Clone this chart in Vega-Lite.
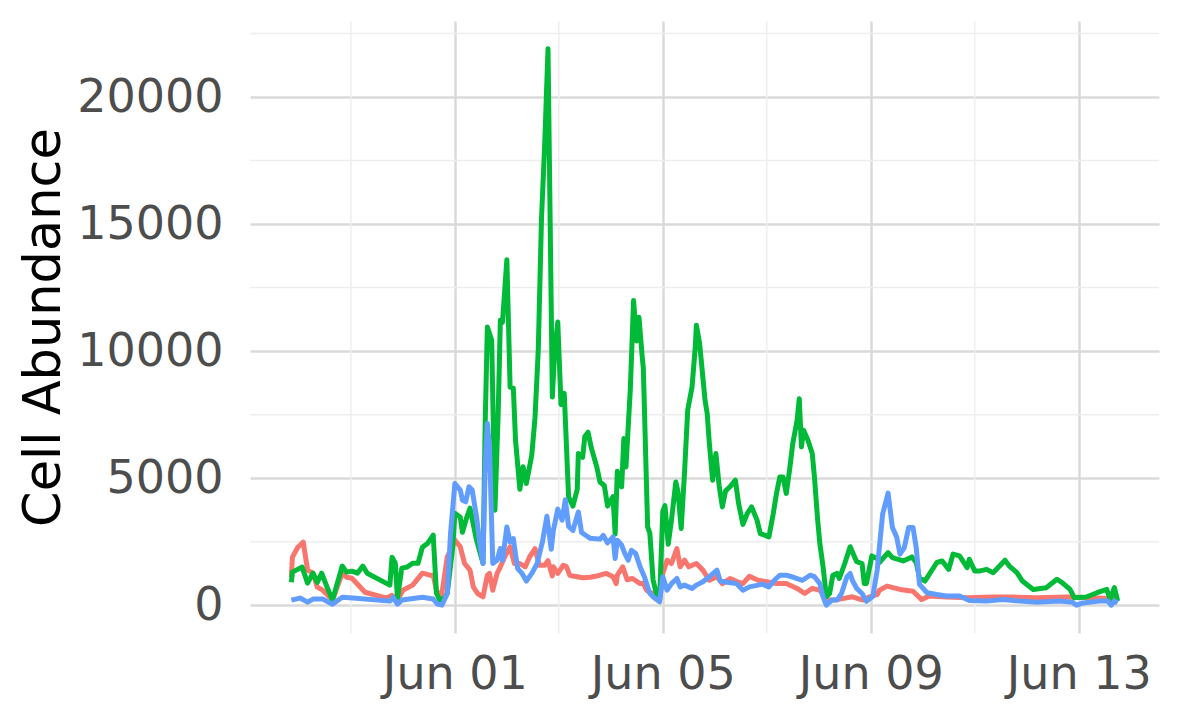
{
"$schema":"https://vega.github.io/schema/vega-lite/v6.json",
"width":909,"height":612,
"autosize":{"type":"none"},
"padding":{"left":250,"top":21,"right":41,"bottom":87},
"background":"white",
"config":{"view":{"stroke":null},"font":"DejaVu Sans"},
"resolve":{"scale":{"x":"shared","y":"shared"},"axis":{"x":"independent","y":"independent"}},
"layer":[
{"data":{"values":[{"d":"2023-05-30T00:00"},{"d":"2023-06-03T00:00"},{"d":"2023-06-07T00:00"},{"d":"2023-06-11T00:00"}]},
 "mark":{"type":"rule","color":"#EEEEEE","strokeWidth":1.5},
 "encoding":{"x":{"field":"d","type":"temporal","scale":{"domain":[{"year":2023,"month":5,"date":28,"hours":1,"minutes":25},{"year":2023,"month":6,"date":14,"hours":13,"minutes":5}],"nice":false},"axis":null}}},
{"data":{"values":[{"m":2500},{"m":7500},{"m":12500},{"m":17500},{"m":22500}]},
 "mark":{"type":"rule","color":"#EEEEEE","strokeWidth":1.5},
 "encoding":{"y":{"field":"m","type":"quantitative","scale":{"domain":[-1095,22995],"nice":false,"zero":false},"axis":null}}},
{"data":{"values":[
{"t":"2023-05-28T20:30","s":"A","v":1100},{"t":"2023-05-28T21:00","s":"A","v":1890},{"t":"2023-05-28T23:30","s":"A","v":2280},{"t":"2023-05-29T02:00","s":"A","v":2480},{"t":"2023-05-29T04:00","s":"A","v":1380},{"t":"2023-05-29T06:30","s":"A","v":1260},{"t":"2023-05-29T08:30","s":"A","v":710},{"t":"2023-05-29T11:00","s":"A","v":590},{"t":"2023-05-29T15:30","s":"A","v":200},{"t":"2023-05-29T20:00","s":"A","v":1260},{"t":"2023-05-29T22:00","s":"A","v":1100},{"t":"2023-05-30T00:30","s":"A","v":1060},{"t":"2023-05-30T06:30","s":"A","v":510},{"t":"2023-05-30T16:30","s":"A","v":280},{"t":"2023-05-30T19:00","s":"A","v":390},{"t":"2023-05-30T21:30","s":"A","v":200},{"t":"2023-05-31T00:00","s":"A","v":590},{"t":"2023-05-31T04:30","s":"A","v":790},{"t":"2023-05-31T09:00","s":"A","v":1260},{"t":"2023-05-31T12:30","s":"A","v":1180},{"t":"2023-05-31T14:00","s":"A","v":1180},{"t":"2023-05-31T15:30","s":"A","v":590},{"t":"2023-05-31T17:00","s":"A","v":350},{"t":"2023-05-31T18:00","s":"A","v":460},{"t":"2023-05-31T20:30","s":"A","v":1900},{"t":"2023-05-31T22:00","s":"A","v":2160},{"t":"2023-06-01T00:00","s":"A","v":2560},{"t":"2023-06-01T02:30","s":"A","v":2300},{"t":"2023-06-01T04:30","s":"A","v":1640},{"t":"2023-06-01T07:00","s":"A","v":1380},{"t":"2023-06-01T08:30","s":"A","v":720},{"t":"2023-06-01T10:30","s":"A","v":460},{"t":"2023-06-01T13:00","s":"A","v":330},{"t":"2023-06-01T15:00","s":"A","v":1180},{"t":"2023-06-01T16:00","s":"A","v":1250},{"t":"2023-06-01T17:30","s":"A","v":590},{"t":"2023-06-01T19:30","s":"A","v":1250},{"t":"2023-06-01T21:00","s":"A","v":1510},{"t":"2023-06-01T23:00","s":"A","v":1900},{"t":"2023-06-02T01:30","s":"A","v":2300},{"t":"2023-06-02T03:30","s":"A","v":1640},{"t":"2023-06-02T06:00","s":"A","v":1640},{"t":"2023-06-02T08:30","s":"A","v":1510},{"t":"2023-06-02T10:30","s":"A","v":1900},{"t":"2023-06-02T13:00","s":"A","v":2230},{"t":"2023-06-02T15:00","s":"A","v":1570},{"t":"2023-06-02T17:30","s":"A","v":1570},{"t":"2023-06-02T19:00","s":"A","v":1750},{"t":"2023-06-02T21:00","s":"A","v":1150},{"t":"2023-06-02T21:30","s":"A","v":1510},{"t":"2023-06-02T23:30","s":"A","v":1250},{"t":"2023-06-03T02:00","s":"A","v":1570},{"t":"2023-06-03T03:30","s":"A","v":1520},{"t":"2023-06-03T05:00","s":"A","v":1180},{"t":"2023-06-03T06:30","s":"A","v":1150},{"t":"2023-06-03T08:30","s":"A","v":1120},{"t":"2023-06-03T11:00","s":"A","v":1080},{"t":"2023-06-03T14:30","s":"A","v":1100},{"t":"2023-06-03T17:30","s":"A","v":1150},{"t":"2023-06-03T19:00","s":"A","v":1180},{"t":"2023-06-03T21:00","s":"A","v":1230},{"t":"2023-06-03T22:00","s":"A","v":1250},{"t":"2023-06-04T01:00","s":"A","v":1120},{"t":"2023-06-04T02:30","s":"A","v":850},{"t":"2023-06-04T03:00","s":"A","v":1180},{"t":"2023-06-04T05:30","s":"A","v":1510},{"t":"2023-06-04T07:30","s":"A","v":1000},{"t":"2023-06-04T10:00","s":"A","v":1050},{"t":"2023-06-04T13:30","s":"A","v":850},{"t":"2023-06-04T15:00","s":"A","v":860},{"t":"2023-06-04T16:30","s":"A","v":590},{"t":"2023-06-04T18:00","s":"A","v":520},{"t":"2023-06-04T20:30","s":"A","v":390},{"t":"2023-06-04T22:30","s":"A","v":200},{"t":"2023-06-05T00:00","s":"A","v":1250},{"t":"2023-06-05T02:00","s":"A","v":1770},{"t":"2023-06-05T04:00","s":"A","v":1640},{"t":"2023-06-05T06:30","s":"A","v":2230},{"t":"2023-06-05T08:00","s":"A","v":1510},{"t":"2023-06-05T10:00","s":"A","v":1770},{"t":"2023-06-05T12:00","s":"A","v":1510},{"t":"2023-06-05T15:30","s":"A","v":1640},{"t":"2023-06-05T18:30","s":"A","v":1380},{"t":"2023-06-05T21:30","s":"A","v":980},{"t":"2023-06-06T01:00","s":"A","v":1120},{"t":"2023-06-06T03:30","s":"A","v":850},{"t":"2023-06-06T07:00","s":"A","v":1050},{"t":"2023-06-06T10:30","s":"A","v":920},{"t":"2023-06-06T13:00","s":"A","v":850},{"t":"2023-06-06T16:00","s":"A","v":1140},{"t":"2023-06-06T20:00","s":"A","v":980},{"t":"2023-06-07T00:00","s":"A","v":920},{"t":"2023-06-07T04:30","s":"A","v":850},{"t":"2023-06-07T09:00","s":"A","v":850},{"t":"2023-06-07T14:00","s":"A","v":660},{"t":"2023-06-07T17:30","s":"A","v":460},{"t":"2023-06-07T21:00","s":"A","v":660},{"t":"2023-06-08T00:30","s":"A","v":590},{"t":"2023-06-08T03:30","s":"A","v":200},{"t":"2023-06-08T07:30","s":"A","v":200},{"t":"2023-06-08T11:00","s":"A","v":260},{"t":"2023-06-08T15:30","s":"A","v":330},{"t":"2023-06-08T20:30","s":"A","v":200},{"t":"2023-06-08T23:30","s":"A","v":330},{"t":"2023-06-09T03:00","s":"A","v":420},{"t":"2023-06-09T04:00","s":"A","v":590},{"t":"2023-06-09T07:30","s":"A","v":750},{"t":"2023-06-09T13:30","s":"A","v":620},{"t":"2023-06-09T19:30","s":"A","v":550},{"t":"2023-06-09T23:30","s":"A","v":220},{"t":"2023-06-10T03:00","s":"A","v":360},{"t":"2023-06-10T11:00","s":"A","v":320},{"t":"2023-06-10T20:30","s":"A","v":290},{"t":"2023-06-11T08:30","s":"A","v":320},{"t":"2023-06-11T17:30","s":"A","v":320},{"t":"2023-06-12T04:30","s":"A","v":290},{"t":"2023-06-12T18:30","s":"A","v":320},{"t":"2023-06-13T06:30","s":"A","v":290},{"t":"2023-06-13T15:30","s":"A","v":250},{"t":"2023-06-13T18:00","s":"A","v":160},
{"t":"2023-05-28T20:30","s":"B","v":900},{"t":"2023-05-28T21:00","s":"B","v":1300},{"t":"2023-05-29T01:30","s":"B","v":1500},{"t":"2023-05-29T04:00","s":"B","v":870},{"t":"2023-05-29T06:30","s":"B","v":1260},{"t":"2023-05-29T08:30","s":"B","v":900},{"t":"2023-05-29T10:30","s":"B","v":1260},{"t":"2023-05-29T13:00","s":"B","v":710},{"t":"2023-05-29T15:30","s":"B","v":200},{"t":"2023-05-29T20:00","s":"B","v":1540},{"t":"2023-05-29T22:00","s":"B","v":1300},{"t":"2023-05-30T00:30","s":"B","v":1340},{"t":"2023-05-30T03:00","s":"B","v":1260},{"t":"2023-05-30T05:30","s":"B","v":1540},{"t":"2023-05-30T07:30","s":"B","v":1260},{"t":"2023-05-30T18:00","s":"B","v":790},{"t":"2023-05-30T19:00","s":"B","v":1890},{"t":"2023-05-30T20:30","s":"B","v":1650},{"t":"2023-05-30T21:30","s":"B","v":280},{"t":"2023-05-30T23:30","s":"B","v":1460},{"t":"2023-05-31T02:00","s":"B","v":1500},{"t":"2023-05-31T04:30","s":"B","v":1650},{"t":"2023-05-31T07:00","s":"B","v":1650},{"t":"2023-05-31T09:00","s":"B","v":2280},{"t":"2023-05-31T11:30","s":"B","v":2440},{"t":"2023-05-31T14:00","s":"B","v":2760},{"t":"2023-05-31T15:30","s":"B","v":470},{"t":"2023-05-31T17:00","s":"B","v":200},{"t":"2023-05-31T19:30","s":"B","v":300},{"t":"2023-05-31T20:30","s":"B","v":470},{"t":"2023-05-31T23:00","s":"B","v":2280},{"t":"2023-06-01T00:00","s":"B","v":3620},{"t":"2023-06-01T02:30","s":"B","v":3460},{"t":"2023-06-01T03:30","s":"B","v":2870},{"t":"2023-06-01T05:30","s":"B","v":3460},{"t":"2023-06-01T07:00","s":"B","v":3820},{"t":"2023-06-01T10:00","s":"B","v":2560},{"t":"2023-06-01T13:00","s":"B","v":1650},{"t":"2023-06-01T14:00","s":"B","v":7170},{"t":"2023-06-01T15:00","s":"B","v":10950},{"t":"2023-06-01T17:00","s":"B","v":10430},{"t":"2023-06-01T18:30","s":"B","v":3740},{"t":"2023-06-01T20:00","s":"B","v":7560},{"t":"2023-06-01T21:00","s":"B","v":11220},{"t":"2023-06-01T22:00","s":"B","v":11140},{"t":"2023-06-02T00:00","s":"B","v":13600},{"t":"2023-06-02T01:30","s":"B","v":8580},{"t":"2023-06-02T03:00","s":"B","v":8540},{"t":"2023-06-02T04:00","s":"B","v":6500},{"t":"2023-06-02T06:00","s":"B","v":4560},{"t":"2023-06-02T07:30","s":"B","v":5450},{"t":"2023-06-02T09:00","s":"B","v":4790},{"t":"2023-06-02T11:30","s":"B","v":5900},{"t":"2023-06-02T13:00","s":"B","v":7380},{"t":"2023-06-02T14:30","s":"B","v":10040},{"t":"2023-06-02T16:00","s":"B","v":15230},{"t":"2023-06-02T17:30","s":"B","v":18190},{"t":"2023-06-02T19:00","s":"B","v":21900},{"t":"2023-06-02T21:00","s":"B","v":8190},{"t":"2023-06-02T22:00","s":"B","v":9900},{"t":"2023-06-02T23:30","s":"B","v":11150},{"t":"2023-06-03T01:00","s":"B","v":7900},{"t":"2023-06-03T02:30","s":"B","v":8340},{"t":"2023-06-03T04:30","s":"B","v":4270},{"t":"2023-06-03T06:30","s":"B","v":3900},{"t":"2023-06-03T08:30","s":"B","v":4560},{"t":"2023-06-03T09:00","s":"B","v":5970},{"t":"2023-06-03T11:00","s":"B","v":5820},{"t":"2023-06-03T12:00","s":"B","v":6640},{"t":"2023-06-03T13:30","s":"B","v":6810},{"t":"2023-06-03T15:00","s":"B","v":6190},{"t":"2023-06-03T17:30","s":"B","v":5450},{"t":"2023-06-03T19:00","s":"B","v":4850},{"t":"2023-06-03T21:00","s":"B","v":4710},{"t":"2023-06-03T22:30","s":"B","v":3900},{"t":"2023-06-04T01:00","s":"B","v":4270},{"t":"2023-06-04T02:00","s":"B","v":2800},{"t":"2023-06-04T03:00","s":"B","v":5270},{"t":"2023-06-04T05:00","s":"B","v":4660},{"t":"2023-06-04T06:00","s":"B","v":6560},{"t":"2023-06-04T07:00","s":"B","v":5440},{"t":"2023-06-04T09:00","s":"B","v":8500},{"t":"2023-06-04T10:30","s":"B","v":11990},{"t":"2023-06-04T12:00","s":"B","v":10400},{"t":"2023-06-04T13:00","s":"B","v":11330},{"t":"2023-06-04T14:30","s":"B","v":9770},{"t":"2023-06-04T15:00","s":"B","v":9340},{"t":"2023-06-04T17:00","s":"B","v":3080},{"t":"2023-06-04T18:00","s":"B","v":2840},{"t":"2023-06-04T19:30","s":"B","v":1000},{"t":"2023-06-04T21:00","s":"B","v":450},{"t":"2023-06-04T22:30","s":"B","v":200},{"t":"2023-06-05T00:00","s":"B","v":3700},{"t":"2023-06-05T01:00","s":"B","v":3920},{"t":"2023-06-05T02:30","s":"B","v":2400},{"t":"2023-06-05T04:00","s":"B","v":3350},{"t":"2023-06-05T06:00","s":"B","v":4850},{"t":"2023-06-05T07:00","s":"B","v":4460},{"t":"2023-06-05T08:30","s":"B","v":3020},{"t":"2023-06-05T10:00","s":"B","v":5180},{"t":"2023-06-05T11:30","s":"B","v":7680},{"t":"2023-06-05T13:30","s":"B","v":8590},{"t":"2023-06-05T15:00","s":"B","v":10170},{"t":"2023-06-05T15:30","s":"B","v":11020},{"t":"2023-06-05T17:00","s":"B","v":10300},{"t":"2023-06-05T19:30","s":"B","v":8070},{"t":"2023-06-05T20:30","s":"B","v":7540},{"t":"2023-06-05T21:30","s":"B","v":6360},{"t":"2023-06-05T23:00","s":"B","v":4920},{"t":"2023-06-06T00:30","s":"B","v":5970},{"t":"2023-06-06T02:00","s":"B","v":4720},{"t":"2023-06-06T03:30","s":"B","v":3870},{"t":"2023-06-06T05:00","s":"B","v":4500},{"t":"2023-06-06T07:00","s":"B","v":4660},{"t":"2023-06-06T09:30","s":"B","v":4920},{"t":"2023-06-06T11:00","s":"B","v":4000},{"t":"2023-06-06T13:00","s":"B","v":3180},{"t":"2023-06-06T15:00","s":"B","v":3610},{"t":"2023-06-06T17:00","s":"B","v":3870},{"t":"2023-06-06T19:30","s":"B","v":3350},{"t":"2023-06-06T21:00","s":"B","v":2820},{"t":"2023-06-06T23:00","s":"B","v":2760},{"t":"2023-06-07T01:00","s":"B","v":2690},{"t":"2023-06-07T03:00","s":"B","v":3610},{"t":"2023-06-07T04:30","s":"B","v":4400},{"t":"2023-06-07T06:00","s":"B","v":5050},{"t":"2023-06-07T07:30","s":"B","v":5050},{"t":"2023-06-07T09:00","s":"B","v":4400},{"t":"2023-06-07T10:30","s":"B","v":5310},{"t":"2023-06-07T12:00","s":"B","v":6360},{"t":"2023-06-07T14:00","s":"B","v":7280},{"t":"2023-06-07T15:00","s":"B","v":8130},{"t":"2023-06-07T16:00","s":"B","v":6230},{"t":"2023-06-07T17:00","s":"B","v":6890},{"t":"2023-06-07T19:00","s":"B","v":6490},{"t":"2023-06-07T21:00","s":"B","v":5970},{"t":"2023-06-07T22:00","s":"B","v":5050},{"t":"2023-06-07T23:30","s":"B","v":3350},{"t":"2023-06-08T00:30","s":"B","v":2430},{"t":"2023-06-08T02:00","s":"B","v":1510},{"t":"2023-06-08T03:30","s":"B","v":330},{"t":"2023-06-08T05:00","s":"B","v":460},{"t":"2023-06-08T06:30","s":"B","v":1180},{"t":"2023-06-08T08:30","s":"B","v":1250},{"t":"2023-06-08T09:30","s":"B","v":1050},{"t":"2023-06-08T12:00","s":"B","v":1640},{"t":"2023-06-08T14:30","s":"B","v":2300},{"t":"2023-06-08T15:30","s":"B","v":2100},{"t":"2023-06-08T17:30","s":"B","v":1710},{"t":"2023-06-08T20:00","s":"B","v":1640},{"t":"2023-06-08T21:00","s":"B","v":850},{"t":"2023-06-08T22:00","s":"B","v":850},{"t":"2023-06-09T00:30","s":"B","v":1940},{"t":"2023-06-09T03:00","s":"B","v":1840},{"t":"2023-06-09T04:00","s":"B","v":1680},{"t":"2023-06-09T08:00","s":"B","v":2070},{"t":"2023-06-09T10:00","s":"B","v":1870},{"t":"2023-06-09T15:00","s":"B","v":1740},{"t":"2023-06-09T19:00","s":"B","v":1900},{"t":"2023-06-09T21:00","s":"B","v":1680},{"t":"2023-06-09T22:30","s":"B","v":1080},{"t":"2023-06-10T01:00","s":"B","v":950},{"t":"2023-06-10T03:00","s":"B","v":1210},{"t":"2023-06-10T06:30","s":"B","v":1680},{"t":"2023-06-10T09:00","s":"B","v":1740},{"t":"2023-06-10T12:00","s":"B","v":1410},{"t":"2023-06-10T14:00","s":"B","v":2010},{"t":"2023-06-10T17:00","s":"B","v":1940},{"t":"2023-06-10T20:30","s":"B","v":1480},{"t":"2023-06-10T21:30","s":"B","v":1810},{"t":"2023-06-11T00:00","s":"B","v":1350},{"t":"2023-06-11T02:30","s":"B","v":1350},{"t":"2023-06-11T05:30","s":"B","v":1410},{"t":"2023-06-11T08:30","s":"B","v":1280},{"t":"2023-06-11T11:30","s":"B","v":1540},{"t":"2023-06-11T14:00","s":"B","v":1770},{"t":"2023-06-11T16:00","s":"B","v":1540},{"t":"2023-06-11T19:30","s":"B","v":1280},{"t":"2023-06-11T22:00","s":"B","v":950},{"t":"2023-06-12T03:00","s":"B","v":620},{"t":"2023-06-12T09:00","s":"B","v":690},{"t":"2023-06-12T14:00","s":"B","v":1020},{"t":"2023-06-12T16:30","s":"B","v":880},{"t":"2023-06-12T20:00","s":"B","v":620},{"t":"2023-06-12T22:00","s":"B","v":290},{"t":"2023-06-13T03:30","s":"B","v":320},{"t":"2023-06-13T08:30","s":"B","v":490},{"t":"2023-06-13T13:00","s":"B","v":620},{"t":"2023-06-13T14:30","s":"B","v":220},{"t":"2023-06-13T16:30","s":"B","v":690},{"t":"2023-06-13T18:00","s":"B","v":160},
{"t":"2023-05-28T20:30","s":"C","v":200},{"t":"2023-05-29T00:30","s":"C","v":280},{"t":"2023-05-29T04:00","s":"C","v":120},{"t":"2023-05-29T06:30","s":"C","v":240},{"t":"2023-05-29T11:00","s":"C","v":240},{"t":"2023-05-29T15:30","s":"C","v":40},{"t":"2023-05-29T20:00","s":"C","v":310},{"t":"2023-05-30T01:00","s":"C","v":280},{"t":"2023-05-30T18:00","s":"C","v":160},{"t":"2023-05-30T19:30","s":"C","v":310},{"t":"2023-05-30T21:30","s":"C","v":40},{"t":"2023-05-30T23:30","s":"C","v":200},{"t":"2023-05-31T09:00","s":"C","v":310},{"t":"2023-05-31T14:00","s":"C","v":240},{"t":"2023-05-31T16:00","s":"C","v":40},{"t":"2023-05-31T18:00","s":"C","v":0},{"t":"2023-05-31T20:30","s":"C","v":460},{"t":"2023-05-31T22:00","s":"C","v":2820},{"t":"2023-06-01T00:00","s":"C","v":4790},{"t":"2023-06-01T02:30","s":"C","v":4530},{"t":"2023-06-01T03:30","s":"C","v":4130},{"t":"2023-06-01T05:00","s":"C","v":4070},{"t":"2023-06-01T06:30","s":"C","v":4660},{"t":"2023-06-01T08:00","s":"C","v":4530},{"t":"2023-06-01T10:00","s":"C","v":3480},{"t":"2023-06-01T11:30","s":"C","v":2430},{"t":"2023-06-01T13:00","s":"C","v":1640},{"t":"2023-06-01T14:00","s":"C","v":5440},{"t":"2023-06-01T15:00","s":"C","v":7150},{"t":"2023-06-01T16:00","s":"C","v":6230},{"t":"2023-06-01T17:30","s":"C","v":1640},{"t":"2023-06-01T19:30","s":"C","v":1770},{"t":"2023-06-01T21:00","s":"C","v":2230},{"t":"2023-06-01T22:00","s":"C","v":1770},{"t":"2023-06-02T00:00","s":"C","v":3080},{"t":"2023-06-02T01:30","s":"C","v":2490},{"t":"2023-06-02T03:00","s":"C","v":2620},{"t":"2023-06-02T03:30","s":"C","v":2300},{"t":"2023-06-02T05:00","s":"C","v":1440},{"t":"2023-06-02T07:00","s":"C","v":1250},{"t":"2023-06-02T09:00","s":"C","v":950},{"t":"2023-06-02T11:30","s":"C","v":1250},{"t":"2023-06-02T14:00","s":"C","v":1640},{"t":"2023-06-02T16:30","s":"C","v":2520},{"t":"2023-06-02T18:30","s":"C","v":3500},{"t":"2023-06-02T20:30","s":"C","v":2200},{"t":"2023-06-02T21:30","s":"C","v":2950},{"t":"2023-06-02T23:30","s":"C","v":3780},{"t":"2023-06-03T01:30","s":"C","v":3350},{"t":"2023-06-03T03:00","s":"C","v":4150},{"t":"2023-06-03T04:30","s":"C","v":3100},{"t":"2023-06-03T06:30","s":"C","v":2940},{"t":"2023-06-03T09:00","s":"C","v":3670},{"t":"2023-06-03T10:30","s":"C","v":2860},{"t":"2023-06-03T14:30","s":"C","v":2630},{"t":"2023-06-03T19:00","s":"C","v":2600},{"t":"2023-06-03T20:30","s":"C","v":2750},{"t":"2023-06-03T22:30","s":"C","v":2450},{"t":"2023-06-04T01:00","s":"C","v":2690},{"t":"2023-06-04T02:00","s":"C","v":1840},{"t":"2023-06-04T03:00","s":"C","v":2560},{"t":"2023-06-04T05:00","s":"C","v":2360},{"t":"2023-06-04T06:30","s":"C","v":2030},{"t":"2023-06-04T08:00","s":"C","v":1770},{"t":"2023-06-04T09:30","s":"C","v":2160},{"t":"2023-06-04T11:30","s":"C","v":2030},{"t":"2023-06-04T13:30","s":"C","v":1510},{"t":"2023-06-04T15:30","s":"C","v":1120},{"t":"2023-06-04T18:00","s":"C","v":460},{"t":"2023-06-04T20:30","s":"C","v":260},{"t":"2023-06-04T22:30","s":"C","v":130},{"t":"2023-06-05T00:00","s":"C","v":1120},{"t":"2023-06-05T02:00","s":"C","v":590},{"t":"2023-06-05T04:00","s":"C","v":850},{"t":"2023-06-05T06:30","s":"C","v":1050},{"t":"2023-06-05T08:00","s":"C","v":720},{"t":"2023-06-05T10:00","s":"C","v":790},{"t":"2023-06-05T13:30","s":"C","v":660},{"t":"2023-06-05T15:30","s":"C","v":790},{"t":"2023-06-05T18:30","s":"C","v":920},{"t":"2023-06-05T21:30","s":"C","v":1120},{"t":"2023-06-06T01:00","s":"C","v":1380},{"t":"2023-06-06T02:30","s":"C","v":950},{"t":"2023-06-06T05:30","s":"C","v":900},{"t":"2023-06-06T10:00","s":"C","v":850},{"t":"2023-06-06T13:00","s":"C","v":590},{"t":"2023-06-06T16:00","s":"C","v":720},{"t":"2023-06-06T20:00","s":"C","v":790},{"t":"2023-06-06T22:00","s":"C","v":830},{"t":"2023-06-07T01:00","s":"C","v":720},{"t":"2023-06-07T03:30","s":"C","v":980},{"t":"2023-06-07T06:00","s":"C","v":1180},{"t":"2023-06-07T09:00","s":"C","v":1180},{"t":"2023-06-07T11:30","s":"C","v":1120},{"t":"2023-06-07T14:00","s":"C","v":1050},{"t":"2023-06-07T16:30","s":"C","v":980},{"t":"2023-06-07T20:00","s":"C","v":1180},{"t":"2023-06-07T22:00","s":"C","v":1120},{"t":"2023-06-08T00:30","s":"C","v":850},{"t":"2023-06-08T02:00","s":"C","v":330},{"t":"2023-06-08T03:30","s":"C","v":0},{"t":"2023-06-08T06:00","s":"C","v":200},{"t":"2023-06-08T08:30","s":"C","v":200},{"t":"2023-06-08T10:30","s":"C","v":460},{"t":"2023-06-08T13:00","s":"C","v":1120},{"t":"2023-06-08T14:30","s":"C","v":1250},{"t":"2023-06-08T15:30","s":"C","v":980},{"t":"2023-06-08T17:30","s":"C","v":660},{"t":"2023-06-08T20:00","s":"C","v":460},{"t":"2023-06-08T22:00","s":"C","v":150},{"t":"2023-06-09T01:00","s":"C","v":350},{"t":"2023-06-09T03:00","s":"C","v":1400},{"t":"2023-06-09T05:30","s":"C","v":3590},{"t":"2023-06-09T08:00","s":"C","v":4410},{"t":"2023-06-09T10:00","s":"C","v":3060},{"t":"2023-06-09T12:00","s":"C","v":2670},{"t":"2023-06-09T13:30","s":"C","v":2010},{"t":"2023-06-09T15:30","s":"C","v":2270},{"t":"2023-06-09T17:30","s":"C","v":3060},{"t":"2023-06-09T19:30","s":"C","v":3060},{"t":"2023-06-09T21:00","s":"C","v":2270},{"t":"2023-06-09T22:30","s":"C","v":820},{"t":"2023-06-10T02:00","s":"C","v":490},{"t":"2023-06-10T06:30","s":"C","v":420},{"t":"2023-06-10T11:00","s":"C","v":360},{"t":"2023-06-10T17:00","s":"C","v":360},{"t":"2023-06-10T21:30","s":"C","v":180},{"t":"2023-06-11T05:30","s":"C","v":160},{"t":"2023-06-11T13:00","s":"C","v":220},{"t":"2023-06-11T21:00","s":"C","v":160},{"t":"2023-06-12T04:30","s":"C","v":120},{"t":"2023-06-12T15:00","s":"C","v":160},{"t":"2023-06-12T21:00","s":"C","v":120},{"t":"2023-06-12T23:00","s":"C","v":0},{"t":"2023-06-13T02:00","s":"C","v":90},{"t":"2023-06-13T09:30","s":"C","v":160},{"t":"2023-06-13T13:30","s":"C","v":160},{"t":"2023-06-13T15:00","s":"C","v":0},{"t":"2023-06-13T16:30","s":"C","v":160},{"t":"2023-06-13T18:00","s":"C","v":90}
]},
 "mark":{"type":"line","strokeWidth":5,"strokeJoin":"round"},
 "encoding":{
  "x":{"field":"t","type":"temporal",
   "scale":{"domain":[{"year":2023,"month":5,"date":28,"hours":1,"minutes":25},{"year":2023,"month":6,"date":14,"hours":13,"minutes":5}],"nice":false},
   "axis":{"title":null,"values":[{"year":2023,"month":6,"date":1},{"year":2023,"month":6,"date":5},{"year":2023,"month":6,"date":9},{"year":2023,"month":6,"date":13}],"format":"%b %d","labelFontSize":46,"labelColor":"#4D4D4D","labelFont":"DejaVu Sans","labelPadding":19,"labelFlush":false,"labelOverlap":false,"ticks":false,"domain":false,"grid":true,"gridColor":"#DADADA","gridWidth":2.5}},
  "y":{"field":"v","type":"quantitative",
   "scale":{"domain":[-1095,22995],"nice":false,"zero":false},
   "axis":{"title":"Cell Abundance","titleFontSize":51,"titleFontWeight":"normal","titleColor":"#000000","titleFont":"DejaVu Sans","titlePadding":6,"values":[0,5000,10000,15000,20000],"format":"d","labelFontSize":46,"labelColor":"#4D4D4D","labelFont":"DejaVu Sans","labelPadding":27,"labelFlush":false,"labelOverlap":false,"ticks":false,"domain":false,"grid":true,"gridColor":"#DADADA","gridWidth":2.5}},
  "color":{"field":"s","type":"nominal","scale":{"domain":["A","B","C"],"range":["#F8766D","#00BA38","#619CFF"]},"legend":null}
 }}
]
}
